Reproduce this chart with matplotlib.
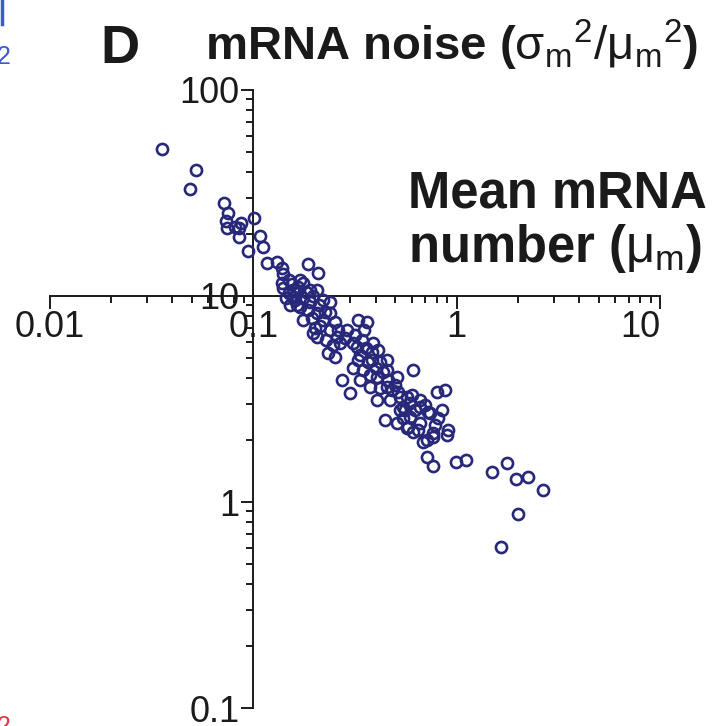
import matplotlib
matplotlib.use("Agg")
import matplotlib.pyplot as plt
from matplotlib.lines import Line2D
from matplotlib.ticker import LogLocator, FixedLocator, FixedFormatter, NullFormatter

plt.rcParams["font.family"] = ["Liberation Sans", "DejaVu Sans"]
plt.rcParams["mathtext.fontset"] = "custom"
plt.rcParams["mathtext.rm"] = "Liberation Sans"
plt.rcParams["mathtext.it"] = "Liberation Sans:italic"
plt.rcParams["mathtext.bf"] = "Liberation Sans:bold"
plt.rcParams["mathtext.default"] = "rm"

# Per-gene mean mRNA number and mRNA noise (sigma^2 / mu^2)
mean_mrna = [
    0.0357, 0.0524, 0.0490, 0.0719, 0.0753, 0.0736, 0.0744, 0.0816, 0.0873, 0.0854,
    0.0854, 0.101, 0.108, 0.111, 0.0945, 0.117, 0.131, 0.139, 0.140, 0.186,
    0.209, 0.139, 0.140, 0.157, 0.166, 0.176, 0.190, 0.206, 0.157, 0.164,
    0.176, 0.190, 0.221, 0.239, 0.176, 0.206, 0.221, 0.239, 0.206, 0.239,
    0.259, 0.290, 0.197, 0.234, 0.253, 0.274, 0.300, 0.328, 0.363, 0.310,
    0.336, 0.389, 0.385, 0.310, 0.347, 0.336, 0.421, 0.455, 0.407, 0.455,
    0.510, 0.421, 0.482, 0.471, 0.528, 0.407, 0.546, 0.611, 0.802, 0.878,
    0.446, 0.510, 0.546, 0.578, 0.662, 0.784, 0.716, 0.767, 0.908, 0.900,
    0.591, 0.662, 0.724, 0.558, 0.591, 0.571, 0.684, 0.716, 0.767, 0.995,
    1.11, 1.49, 1.77, 1.96, 2.24, 2.66, 2.00, 1.65, 0.662, 0.767,
    0.268, 0.324, 0.376, 0.455, 0.571, 0.528, 0.741,
    0.149, 0.155, 0.164, 0.170, 0.182, 0.150, 0.145, 0.161, 0.197, 0.170,
    0.186, 0.152,
    0.195, 0.213, 0.226, 0.253, 0.262, 0.228, 0.247, 0.283, 0.211, 0.202,
    0.317, 0.343, 0.359, 0.385, 0.412, 0.368, 0.402, 0.436, 0.460, 0.376,
    0.499, 0.516, 0.351, 0.328,
    0.605, 0.625, 0.700, 0.647, 0.810, 0.847, 0.611,
]
mrna_noise = [
    51.8, 40.9, 33.1, 28.2, 25.3, 23.1, 21.4, 21.6, 22.6, 21.4,
    19.3, 23.9, 19.5, 17.3, 16.5, 14.5, 14.6, 13.7, 12.8, 14.3,
    12.9, 11.6, 10.9, 10.7, 11.1, 11.6, 10.7, 10.7, 9.89, 9.04,
    9.78, 9.35, 9.56, 9.35, 7.64, 8.27, 7.64, 8.27, 6.32, 6.84,
    6.32, 6.84, 6.61, 5.28, 5.06, 3.91, 3.38, 7.64, 7.48, 5.91,
    5.17, 5.91, 4.89, 4.47, 4.37, 3.91, 4.78, 4.89, 4.04, 4.37,
    4.04, 3.57, 3.50, 3.13, 3.24, 3.13, 2.89, 4.37, 3.42, 3.50,
    2.50, 2.42, 2.56, 2.31, 2.42, 2.36, 2.00, 2.07, 2.24, 2.12,
    3.03, 3.13, 2.73, 2.80, 2.59, 2.29, 1.96, 1.65, 1.50, 1.56,
    1.60, 1.40, 1.55, 1.29, 1.32, 1.14, 0.875, 0.605, 2.89, 2.16,
    5.91, 5.65, 3.61, 3.61, 3.24, 2.80, 2.70,
    12.0, 11.4, 10.5, 12.0, 10.5, 10.35, 9.78, 9.56, 10.0, 8.85,
    8.55, 9.04,
    7.82, 7.15, 8.36, 7.48, 6.84, 6.11, 5.78, 6.25, 9.04, 6.99,
    6.47, 6.11, 5.59, 5.35, 5.47, 4.78, 4.47, 4.28, 3.91, 4.14,
    3.70, 3.42, 6.84, 4.89,
    3.31, 2.80, 2.96, 2.24, 2.56, 2.80, 2.19,
]

x_ticks = [0.01, 0.1, 1, 10]
x_tick_labels = ["0.01", "0.1", "1", "10"]
y_ticks = [0.1, 1, 10, 100]
y_tick_labels = ["0.1", "1", "10", "100"]

W, H = 717, 726
fig = plt.figure(figsize=(W / 100, H / 100), dpi=100)
ax = fig.add_axes([50 / W, 18 / H, 610 / W, 618 / H])

ax.set_xscale("log")
ax.set_yscale("log")
ax.set_xlim(x_ticks[0], x_ticks[-1])
ax.set_ylim(y_ticks[0], y_ticks[-1])

ax.plot(mean_mrna, mrna_noise, linestyle="none", marker="o", markersize=8.0,
        markerfacecolor="none", markeredgecolor="#28287a", markeredgewidth=1.9,
        clip_on=False, zorder=3)

# Axes cross at (0.1, 10)
ax.spines["top"].set_visible(False)
ax.spines["right"].set_visible(False)
ax.spines["left"].set_position(("data", 0.1))
ax.spines["bottom"].set_position(("data", 10))
for s in ("left", "bottom"):
    ax.spines[s].set_linewidth(1.4)
    ax.spines[s].set_color("#1a1a1a")

ax.xaxis.set_major_locator(FixedLocator(x_ticks))
ax.xaxis.set_major_formatter(FixedFormatter(x_tick_labels))
ax.yaxis.set_major_locator(FixedLocator(y_ticks))
ax.yaxis.set_major_formatter(FixedFormatter(y_tick_labels))
ax.xaxis.set_minor_locator(LogLocator(base=10, subs=range(2, 10)))
ax.yaxis.set_minor_locator(LogLocator(base=10, subs=range(2, 10)))
ax.xaxis.set_minor_formatter(NullFormatter())
ax.yaxis.set_minor_formatter(NullFormatter())

ax.tick_params(which="major", direction="out", length=9, width=1.4,
               color="#1a1a1a", labelsize=26, labelcolor="#1a1a1a", pad=1)
ax.tick_params(which="minor", direction="out", length=5, width=1.4, color="#1a1a1a")

# keep the last x label inside the figure
fig.canvas.draw()
ax.get_xticklabels()[-1].set_horizontalalignment("right")

# Panel letter and title
fig.text(100 / W, 1 - 63 / H, "D", fontsize=39, fontweight="bold",
         color="#1a1a1a", va="baseline", ha="left")
fig.text(205 / W, 1 - 60 / H,
         r"$\mathbf{mRNA\ noise\ (}\sigma_{\mathrm{m}}{}^{2}/\mu_{\mathrm{m}}{}^{2}\mathbf{)}$",
         fontsize=34, color="#1a1a1a", va="baseline", ha="left")

# x-axis label
fig.text(408 / W, 1 - 208 / H, "Mean mRNA", fontsize=36.5, fontweight="bold",
         color="#1a1a1a", va="baseline", ha="left")
fig.text(408 / W, 1 - 262 / H,
         r"$\mathbf{number\ (}\mu_{\mathrm{m}}\mathbf{)}$",
         fontsize=36.5, color="#1a1a1a", va="baseline", ha="left")

# Edges of neighbouring panels
fig.add_artist(Line2D([2 / W, 2 / W], [1.0, 1 - 24 / H], color="#3a5bd0", linewidth=2.5))
fig.text(-3 / W, 1 - 64 / H, "2", fontsize=18, color="#3a5bd0", va="baseline", ha="left")
fig.text(-3 / W, 1 - 734 / H, "2", fontsize=18, color="#e8354a", va="baseline", ha="left")

fig.savefig("out.png", dpi=100)
